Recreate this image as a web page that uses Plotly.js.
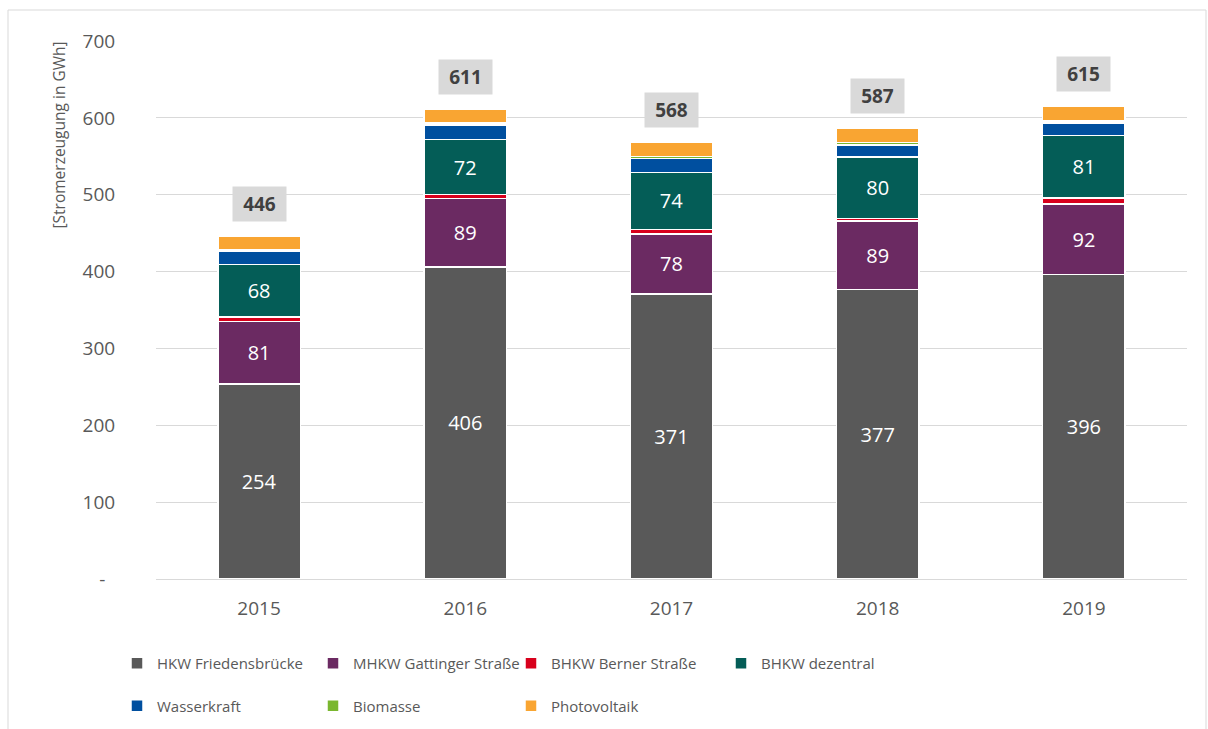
<!DOCTYPE html>
<html>
<head>
<meta charset="utf-8">
<script src="https://cdn.plot.ly/plotly-3.0.1.min.js"></script>
<style>html,body{margin:0;padding:0;background:#fff;}#chart{width:1208px;height:729px;}</style>
</head>
<body>
<div id="chart"></div>
<script>
const years = ['2015', '2016', '2017', '2018', '2019'];
const hkwFriedensbruecke = [254, 406, 371, 377, 396];
const mhkwGattinger = [81, 89, 78, 89, 92];
const bhkwBerner = [6, 5, 6, 3, 8];
const bhkwDezentral = [68, 72, 74, 80, 81];
const wasserkraft = [18, 19, 18, 16, 16];
const biomasse = [2, 2, 3, 3, 3];
const photovoltaik = [17, 18, 18, 19, 19];
const totals = [446, 611, 568, 587, 615];
const yTickValues = [0, 100, 200, 300, 400, 500, 600, 700];
const yTickLabels = ['-', '100', '200', '300', '400', '500', '600', '700'];

const FONT = '"Open Sans", "DejaVu Sans", sans-serif';
const series = [
  {name: 'HKW Friedensbrücke', y: hkwFriedensbruecke, color: '#595959', label: true, legend: 'legend'},
  {name: 'MHKW Gattinger Straße', y: mhkwGattinger, color: '#6B2A62', label: true, legend: 'legend2'},
  {name: 'BHKW Berner Straße', y: bhkwBerner, color: '#D8001C', label: false, legend: 'legend3'},
  {name: 'BHKW dezentral', y: bhkwDezentral, color: '#045D57', label: true, legend: 'legend4'},
  {name: 'Wasserkraft', y: wasserkraft, color: '#004F9F', label: false, legend: 'legend'},
  {name: 'Biomasse', y: biomasse, color: '#7AB72F', label: false, legend: 'legend2'},
  {name: 'Photovoltaik', y: photovoltaik, color: '#F9A532', label: false, legend: 'legend3'}
];

const traces = series.map((s, i) => {
  const t = {
    type: 'bar',
    name: s.name,
    x: years,
    y: s.y,
    legend: s.legend,
    legendgroup: 'g' + i,
    marker: {color: s.color, line: {color: '#FFFFFF', width: 1.5}},
    hoverinfo: 'skip'
  };
  if (s.label) {
    t.text = s.y.map(String);
    t.textposition = 'inside';
    t.insidetextanchor = 'middle';
    t.textfont = {family: FONT, size: 20, color: '#FFFFFF'};
  } else {
    t.textposition = 'none';
  }
  return t;
});

const padLabel = t => t === '-' ? '-\u00a0\u00a0' : t;

const W = 1208, H = 729, mL = 156, mR = 21, mT = 41, mB = 150;
const pw = W - mL - mR, ph = H - mT - mB;
const px = x => (x - mL) / pw;
const py = y => (H - mB - y) / ph;

// category index is used as annotation x (numeric-looking category names would be read as numbers)
const totalAnnotations = years.map((yr, i) => ({
  x: i, y: totals[i], xref: 'x', yref: 'y',
  text: '<b>' + totals[i] + '</b>',
  showarrow: false, yanchor: 'bottom', yshift: 14,
  width: 51, height: 32, bgcolor: '#D9D9D9',
  font: {family: FONT, size: 19, color: '#404040'}
}));

const legendBase = {
  orientation: 'v', xanchor: 'left', yanchor: 'top',
  font: {family: FONT, size: 15, color: '#595959'},
  bgcolor: 'rgba(0,0,0,0)', traceorder: 'grouped', tracegroupgap: 20
};
const legendY = py(647);

const layout = {
  width: W, height: H,
  margin: {l: mL, r: mR, t: mT, b: mB, pad: 0, autoexpand: false},
  paper_bgcolor: '#FFFFFF', plot_bgcolor: '#FFFFFF',
  barmode: 'stack', bargap: 0.6,
  font: {family: FONT, color: '#595959'},
  showlegend: true,
  legend: Object.assign({}, legendBase, {x: px(117), y: legendY}),
  legend2: Object.assign({}, legendBase, {x: px(313), y: legendY}),
  legend3: Object.assign({}, legendBase, {x: px(511), y: legendY}),
  legend4: Object.assign({}, legendBase, {x: px(721), y: legendY}),
  xaxis: {
    type: 'category', categoryorder: 'array', categoryarray: years,
    range: [-0.5, years.length - 0.5], autorange: false,
    showgrid: false, zeroline: false, showline: false,
    ticks: 'outside', ticklen: 12, tickcolor: 'rgba(0,0,0,0)',
    tickfont: {family: FONT, size: 19, color: '#595959'}
  },
  yaxis: {
    range: [0, 700], autorange: false, tickmode: 'array', tickvals: yTickValues, ticktext: yTickLabels.map(padLabel),
    showgrid: true, gridcolor: '#D9D9D9', gridwidth: 1,
    zeroline: true, zerolinecolor: '#D9D9D9', zerolinewidth: 1, showline: false,
    ticks: 'outside', ticklen: 36, tickcolor: 'rgba(0,0,0,0)',
    tickfont: {family: FONT, size: 19, color: '#595959'}
  },
  annotations: totalAnnotations.concat([{
    text: '[Stromerzeugung in GWh]', textangle: -90,
    xref: 'paper', yref: 'paper', x: px(58), y: py(40),
    xanchor: 'center', yanchor: 'top', showarrow: false,
    font: {family: '"Liberation Sans Narrow", "Open Sans", sans-serif', size: 15.5, color: '#595959'}
  }]),
  shapes: [{
    type: 'rect', xref: 'paper', yref: 'paper', layer: 'below',
    x0: px(8), x1: px(1206), y0: py(740), y1: py(10),
    line: {color: '#D9D9D9', width: 1}, fillcolor: 'rgba(0,0,0,0)'
  }]
};

Plotly.newPlot('chart', traces, layout, {displayModeBar: false, staticPlot: true});
</script>
</body>
</html>
